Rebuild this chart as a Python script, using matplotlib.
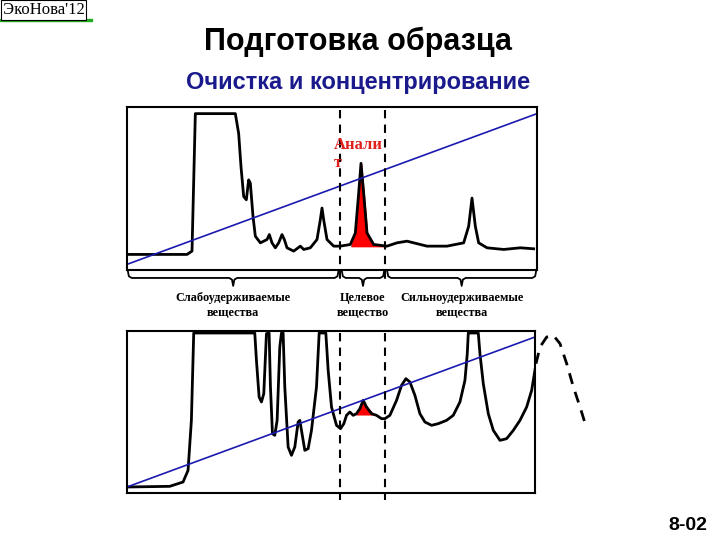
import matplotlib
matplotlib.use("Agg")
import matplotlib.pyplot as plt
from matplotlib.patches import Rectangle

# top chromatogram traced (x, y) in chart units (y grows downward)
top_x = [20,200,215,225,345,355,362,370,378,385,390,398,405,420,440,447,455,465,475,485,492,500,520,540,550,570,590,600,605,610,620,640,660,690,705,715,722,730,740,760,800,830,860,880,920,980,1030,1045,1055,1065,1075,1100,1150,1200,1240]
top_y = [465,465,455,40,40,100,200,290,300,240,250,350,410,430,420,405,430,445,430,405,420,445,455,440,450,445,420,360,325,360,420,440,440,435,400,280,190,280,400,435,440,430,425,430,440,440,430,380,295,380,430,445,450,445,448]
top_fill_x = [693,705,715,722,730,740,760,795]
top_fill_y = [440,400,280,190,280,400,435,440]
top_grad = ([20,1250],[495,40])
bounds_top = [660,795]

bot_x = [22,150,190,205,215,222,405,410,418,425,432,440,448,452,458,465,472,480,485,490,495,505,515,525,535,540,545,555,565,575,590,598,618,625,635,650,662,672,680,690,700,710,720,730,740,755,770,785,795,810,830,845,858,870,885,900,915,935,955,980,1000,1020,1035,1042,1045,1075,1080,1090,1105,1120,1140,1160,1180,1200,1220,1235,1248]
bot_y = [500,498,485,450,300,38,38,120,230,245,220,40,38,200,340,345,300,80,38,38,200,380,405,380,305,300,330,390,385,330,200,38,38,150,260,315,325,310,285,275,285,280,265,240,260,280,285,295,295,285,240,195,175,185,225,280,305,315,310,300,285,245,180,100,38,38,100,190,280,330,360,355,330,300,260,210,130]
bot_ext_x = [1248,1260,1280,1300,1320,1340,1360,1380,1400]
bot_ext_y = [130,80,50,45,70,130,200,260,325]
bot_fill_x = [710,720,730,740,760]
bot_fill_y = [280,265,240,260,282]
bot_grad = ([22,1245],[500,50])

labels = ["Слабоудерживаемые\nвещества", "Целевое\nвещество", "Сильноудерживаемые\nвещества"]
brace_spans = [(22,655),(664,792),(800,1248)]

fig = plt.figure(figsize=(7.2,5.4), dpi=100)
fig.patch.set_facecolor("white")

def setup(ax, xl, yl):
    ax.set_xlim(*xl); ax.set_ylim(*yl)
    ax.set_xticks([]); ax.set_yticks([])
    for s in ax.spines.values():
        s.set_linewidth(1.5)

ax1 = fig.add_axes([127/720, 1-270/540, 410/720, 163/540])
setup(ax1, (20,1250), (512,20))
ax1.plot(top_x, top_y, color="black", lw=2)
ax1.fill_between(top_fill_x, top_fill_y, 440, color="red")
ax1.plot(*top_grad, color="#1a1ab0", lw=1.2)
for b in bounds_top:
    ax1.plot([b,b],[30,545], color="black", lw=1.5, ls=(0,(4,3)), clip_on=False)
ax1.text(640, 112, "Анали\nт", color="#e0201a", fontsize=12, fontweight="bold",
         family="Liberation Serif", va="top", ha="left", linespacing=1.1)

def brace(ax, x0, x1, y0=512, y1=560):
    xm = (x0+x1)/2
    r = 12
    xs = [x0, x0+r*0.3, x0+r, xm-r, xm-r*0.3, xm, xm+r*0.3, xm+r, x1-r, x1-r*0.3, x1]
    ym = (y0+y1)/2
    ys = [y0, ym-5, ym, ym, ym+5, y1, ym+5, ym, ym, ym-5, y0]
    ax.plot(xs, ys, color="black", lw=1.3, clip_on=False)

for (a,b), lab in zip(brace_spans, labels):
    brace(ax1, a, b)
    ax1.text((a+b)/2, 578, lab, ha="center", va="top", fontsize=8.8, fontweight="bold",
             family="Liberation Serif", linespacing=1.3)

ax2 = fig.add_axes([127/720, 1-493/540, 408/720, 162/540])
setup(ax2, (22,1245), (518,32))
ax2.plot(bot_x, bot_y, color="black", lw=2)
ax2.plot(bot_ext_x, bot_ext_y, color="black", lw=2, ls=(0,(4,3)), clip_on=False)
ax2.fill_between(bot_fill_x, bot_fill_y, 282, color="red")
ax2.plot(*bot_grad, color="#1a1ab0", lw=1.2)
for b in bounds_top:
    ax2.plot([b,b],[38,540], color="black", lw=1.5, ls=(0,(4,3)), clip_on=False)

fig.text(358/720, 1-42/540, "Подготовка образца", ha="center", va="center",
         fontsize=22, fontweight="bold", family="Liberation Sans")
fig.text(358/720, 1-82/540, "Очистка и концентрирование", ha="center", va="center",
         fontsize=17, fontweight="bold", color="#1a1a8c", family="Liberation Sans")
fig.text(3/720, 1-10/540, "ЭкоНова'12", ha="left", va="center", fontsize=12,
         family="Liberation Serif",
         bbox=dict(boxstyle="square,pad=0.1", fc="white", ec="black", lw=0.8))
fig.add_artist(Rectangle((0, 1-21/540), 92/720, 2/540, color="#22aa22", transform=fig.transFigure))
fig.text(688/720, 1-525/540, "8-02", ha="center", va="center", fontsize=14,
         fontweight="bold", family="Liberation Sans")

fig.savefig("out.png", dpi=100)
